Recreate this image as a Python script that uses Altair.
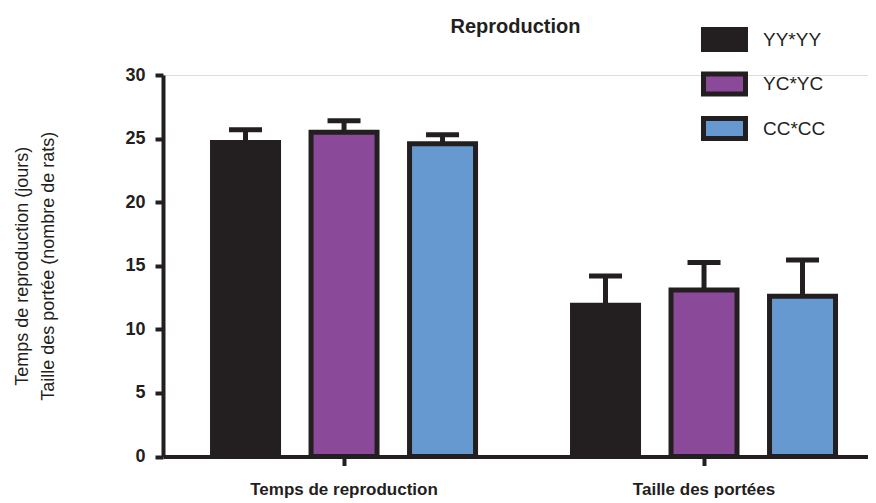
import altair as alt
import pandas as pd

groups = ["Temps de reproduction", "Taille des portées"]
series = ["YY*YY", "YC*YC", "CC*CC"]
means_temps = [24.7, 25.5, 24.6]
err_temps = [1.0, 0.9, 0.7]
means_taille = [11.9, 13.1, 12.6]
err_taille = [2.3, 2.15, 2.85]
colors = ["#231F20", "#8A4A99", "#6699CF"]
y_ticks = [0, 5, 10, 15, 20, 25, 30]

rows = []
for g, means, errs in ((groups[0], means_temps, err_temps), (groups[1], means_taille, err_taille)):
    for s, m, e in zip(series, means, errs):
        rows.append({"groupe": g, "serie": s, "moyenne": m, "haut": m + e})
df = pd.DataFrame(rows)

INK = "#231F20"
FONT = "Liberation Sans"

x_enc = alt.X(
    "groupe:N",
    sort=groups,
    scale=alt.Scale(paddingInner=0.2694, paddingOuter=0.1139, align=0.604),
    axis=alt.Axis(
        title=None, labelAngle=0, labelFont=FONT, labelFontSize=17, labelFontWeight="bold",
        labelColor=INK, labelPadding=16, labelLimit=400, domainColor=INK, domainWidth=4,
        tickColor=INK, tickWidth=4, tickSize=9,
    ),
)
xo_enc = alt.XOffset("serie:N", sort=series, scale=alt.Scale(paddingInner=0.33, paddingOuter=0))
y_scale = alt.Scale(domain=[0, 30], nice=False)
y_axis = alt.Axis(
    values=y_ticks,
    title=["Temps de reproduction  (jours)", "Taille des portée (nombre de rats)"],
    titleFont=FONT, titleFontSize=18, titleFontWeight="normal", titleColor=INK,
    titlePadding=67, titleLineHeight=26,
    labelFont=FONT, labelFontSize=18, labelFontWeight="bold", labelColor=INK, labelPadding=10,
    domainColor=INK, domainWidth=4, tickColor=INK, tickWidth=4, tickSize=8, grid=False,
)

base = alt.Chart(df)

bars = base.mark_bar(stroke=INK, strokeWidth=5).encode(
    x=x_enc,
    xOffset=xo_enc,
    y=alt.Y("moyenne:Q", scale=y_scale, axis=y_axis),
    fill=alt.Fill(
        "serie:N",
        sort=series,
        scale=alt.Scale(domain=series, range=colors),
        legend=alt.Legend(
            title=None, orient="none", legendX=541, legendY=-56, padding=0,
            symbolType="M-1.167,-0.556H1.167V0.556H-1.167Z", symbolSize=1296,
            symbolStrokeColor=INK, symbolStrokeWidth=5, symbolOpacity=1,
            labelFont=FONT, labelFontSize=19, labelColor=INK, labelOffset=18,
            rowPadding=3.5,
        ),
    ),
)

stems = base.mark_rule(color=INK, strokeWidth=5).encode(
    x=x_enc, xOffset=xo_enc, y=alt.Y("moyenne:Q", scale=y_scale), y2="haut:Q"
)
caps = base.mark_tick(color=INK, size=33, thickness=5, orient="horizontal", opacity=1).encode(
    x=x_enc, xOffset=xo_enc, y=alt.Y("haut:Q", scale=y_scale)
)

chart = (
    alt.layer(bars, stems, caps)
    .properties(
        width=705,
        height=381.5,
        autosize=alt.AutoSizeParams(type="none"),
        padding={"left": 155, "top": 67, "right": 0, "bottom": 46},
        title=alt.TitleParams(
            "Reproduction", font=FONT, fontSize=20, fontWeight="bold", color=INK,
            anchor="middle", baseline="alphabetic", offset=0, dy=34,
        ),
    )
    .configure_view(strokeWidth=0)
    .configure(background="white")
)

chart.save("out.html", embed_options={"renderer": "svg", "actions": False})
